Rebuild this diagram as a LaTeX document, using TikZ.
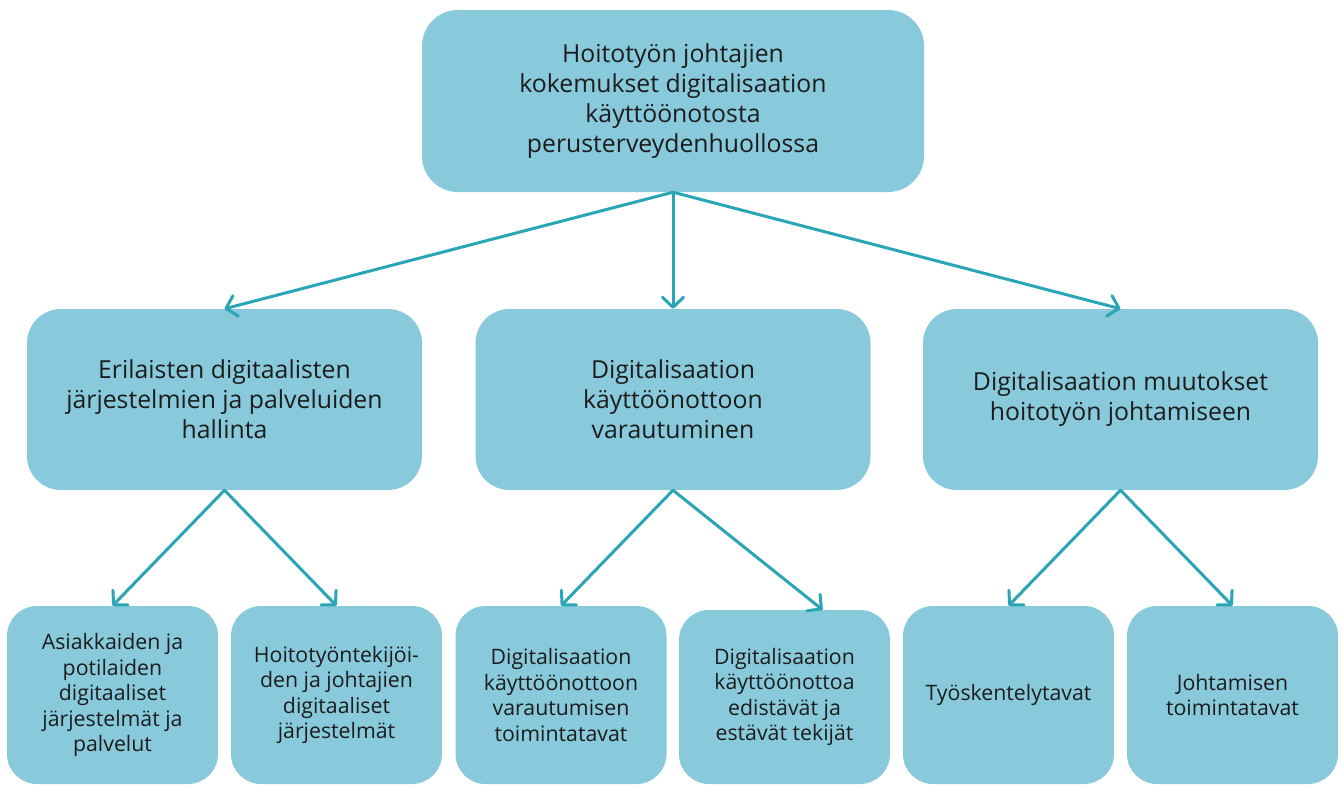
\documentclass[tikz,border=0pt]{standalone}
\usepackage{fontspec}
\setmainfont{Open Sans}
\usetikzlibrary{arrows.meta,calc}
\definecolor{boxfill}{HTML}{88CADB}
\definecolor{linkcol}{HTML}{2AA5B8}
\definecolor{inkcol}{HTML}{1C1C1C}
\tikzset{
  card/.style={fill=boxfill, draw=none, text=inkcol, align=center, inner sep=0pt},
  topcard/.style={card, rounded corners=36pt, minimum width=502pt, minimum height=182pt,
    font=\fontsize{24.8}{30}\selectfont},
  midcard/.style={card, rounded corners=34pt, minimum width=395pt, minimum height=181pt,
    font=\fontsize{24.8}{30}\selectfont},
  lowcard/.style={card, rounded corners=30pt, minimum width=211pt, minimum height=178pt,
    font=\fontsize{21.3}{25.5}\selectfont},
  link/.style={draw=linkcol, line width=3pt, line cap=round,
    -{Straight Barb[length=10pt,width=21pt,round]}}
}
\begin{document}
\begin{tikzpicture}[x=1pt,y=-1pt]
\useasboundingbox (0,0) rectangle (1342,785);

% top level
\node[topcard] (t) at (673,101) {Hoitotyön johtajien\\kokemukset digitalisaation\\käyttöönotosta\\perusterveydenhuollossa};

% second level
\node[midcard] (m1) at (224.5,399.5) {Erilaisten digitaalisten\\järjestelmien ja palveluiden\\hallinta};
\node[midcard] (m2) at (673,399.5) {Digitalisaation\\käyttöönottoon\\varautuminen};
\node[midcard] (m3) at (1120.5,399.5) {Digitalisaation muutokset\\hoitotyön johtamiseen};

% third level
\node[lowcard] (b1) at (112.5,695) {Asiakkaiden ja\\potilaiden\\digitaaliset\\järjestelmät ja\\palvelut};
\node[lowcard] (b2) at (336.5,695) {Hoitotyöntekijöi-\\den ja johtajien\\digitaaliset\\järjestelmät};
\node[lowcard] (b3) at (561,695) {Digitalisaation\\käyttöönottoon\\varautumisen\\toimintatavat};
\node[lowcard, minimum height=174pt] (b4) at (784.5,697) {Digitalisaation\\käyttöönottoa\\edistävät ja\\estävät tekijät};
\node[lowcard] (b5) at (1008.5,695) {Työskentelytavat};
\node[lowcard] (b6) at (1232.5,695) {Johtamisen\\toimintatavat};

% connectors
\draw[link] (t.south) -- (m1.north);
\draw[link] (t.south) -- (m2.north);
\draw[link] (t.south) -- (m3.north);
\draw[link] (m1.south) -- (b1.north);
\draw[link] (m1.south) -- (b2.north);
\draw[link] (m2.south) -- (b3.north);
\draw[link] (m2.south) -- ($(b4.north west)!0.68!(b4.north east)$);
\draw[link] (m3.south) -- (b5.north);
\draw[link] (m3.south) -- (b6.north);
\end{tikzpicture}
\end{document}
